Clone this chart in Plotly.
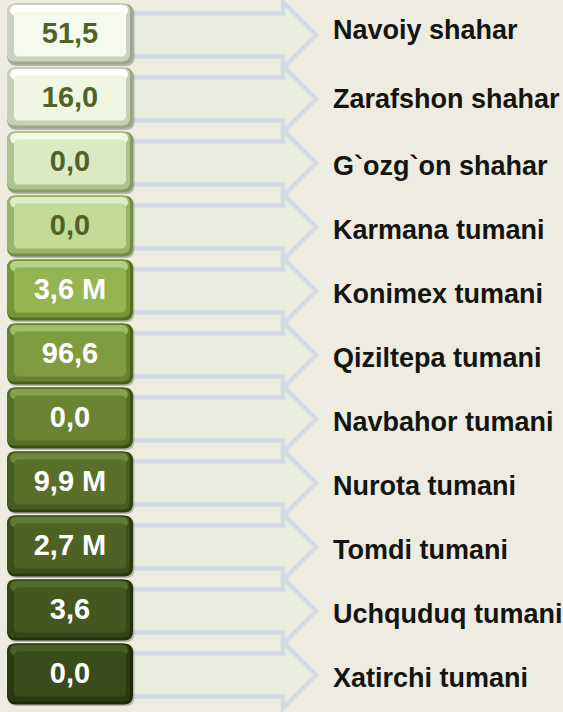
import plotly.graph_objects as go

# ---- data ----
regions = ["Navoiy shahar", "Zarafshon shahar", "G`ozg`on shahar", "Karmana tumani",
           "Konimex tumani", "Qiziltepa tumani", "Navbahor tumani", "Nurota tumani",
           "Tomdi tumani", "Uchquduq tumani", "Xatirchi tumani"]
values = [51.5, 16.0, 0.0, 0.0, 3.6, 96.6, 0.0, 9.9, 2.7, 3.6, 0.0]
units = ["", "", "", "", " M", "", "", " M", " M", "", ""]

face_colors = ["#F6FAEE", "#F0F6E2", "#DCEAC4", "#C3DB96", "#93B552", "#7E9C40",
               "#698534", "#596F2A", "#4D6224", "#43571F", "#3A4C1B"]
edge_colors = ["#CDD2C0", "#C8D0B6", "#AFC38E", "#9AB46A", "#769637", "#66822E",
               "#556F26", "#465B1F", "#3C4F1B", "#344517", "#2C3A13"]
dark_colors = ["#9FA694", "#9CA68A", "#869B63", "#718C45", "#546D22", "#48601C",
               "#3B5016", "#304012", "#293810", "#232F0D", "#1E280B"]
hi_colors = ["#FFFFFF", "#FFFFFF", "#F2F8E6", "#DFEDC3", "#B7D281", "#A0BC64",
             "#86A24D", "#70883D", "#627934", "#556B2B", "#4A5F26"]
text_colors = ["#4F6228"] * 4 + ["#FFFFFF"] * 7

# ---- layout constants ----
W, H = 563, 712
BG = "#EEEBE0"
first_c, pitch = 34, 64
box_x0, box_x1, box_h = 7, 133, 61
centers = [first_c + pitch * i for i in range(len(regions))]
label_nudge = [-8, -3] + [0] * (len(regions) - 2)


def rr(x0, y0, x1, y1, r):
    return (f"M {x0+r},{y0} L {x1-r},{y0} Q {x1},{y0} {x1},{y0+r} "
            f"L {x1},{y1-r} Q {x1},{y1} {x1-r},{y1} L {x0+r},{y1} "
            f"Q {x0},{y1} {x0},{y1-r} L {x0},{y0+r} Q {x0},{y0} {x0+r},{y0} Z")


shapes = []
# arrows
for c in centers:
    ac = c + 1
    bh, hh, xb, xh, xt = 21.5, 33, 120, 283, 316
    path = (f"M {xb},{ac-bh} L {xh},{ac-bh} L {xh},{ac-hh} L {xt},{ac} "
            f"L {xh},{ac+hh} L {xh},{ac+bh} L {xb},{ac+bh} Z")
    shapes.append(dict(type="path", path=path, fillcolor="#E9EDDE",
                       line=dict(color="#D3DAE6", width=4.5), layer="below"))

# boxes
for i, c in enumerate(centers):
    y0, y1 = c - box_h / 2, c + box_h / 2
    shapes.append(dict(type="path", path=rr(box_x0 + 1, y0 + 1.5, box_x1 + 1.5, y1 + 1.5, 9),
                       fillcolor="rgba(60,60,40,0.30)", line=dict(width=0), layer="below"))
    shapes.append(dict(type="path", path=rr(box_x0, y0, box_x1, y1, 9),
                       fillcolor=dark_colors[i], line=dict(width=0), layer="below"))
    shapes.append(dict(type="path", path=rr(box_x0, y0, box_x1 - 3, y1 - 3, 8),
                       fillcolor=edge_colors[i], line=dict(width=0), layer="below"))
    shapes.append(dict(type="path", path=rr(box_x0 + 3, y0 + 1.5, box_x1 - 5, y0 + 12, 6),
                       fillcolor=hi_colors[i], line=dict(width=0), layer="below"))
    shapes.append(dict(type="path", path=rr(box_x0 + 7, y0 + 8, box_x1 - 7, y1 - 8, 5),
                       fillcolor=face_colors[i], line=dict(width=0), layer="below"))

value_text = [f"{v:.1f}".replace(".", ",") + u for v, u in zip(values, units)]

fig = go.Figure()
fig.add_trace(go.Scatter(
    x=[(box_x0 + box_x1) / 2] * len(values), y=[c + 2 for c in centers],
    mode="text", text=value_text, textposition="middle center",
    textfont=dict(family="Arial, Liberation Sans, sans-serif", size=29,
                  color=text_colors, weight="bold"),
    hoverinfo="skip", showlegend=False))
fig.add_trace(go.Scatter(
    x=[333] * len(regions), y=[c + 6 + n for c, n in zip(centers, label_nudge)],
    mode="text", text=regions, textposition="middle right",
    textfont=dict(family="Arial, Liberation Sans, sans-serif", size=27,
                  color="#141410", weight="bold"),
    hoverinfo="skip", showlegend=False))

fig.update_layout(
    width=W, height=H, margin=dict(l=0, r=0, t=0, b=0),
    paper_bgcolor=BG, plot_bgcolor=BG, shapes=shapes,
    xaxis=dict(range=[0, W], visible=False, fixedrange=True),
    yaxis=dict(range=[H, 0], visible=False, fixedrange=True),
)
fig.write_html("out.html", config={"displayModeBar": False},
               post_script="document.body.style.margin='0';"
                           "document.body.style.overflow='hidden';")
